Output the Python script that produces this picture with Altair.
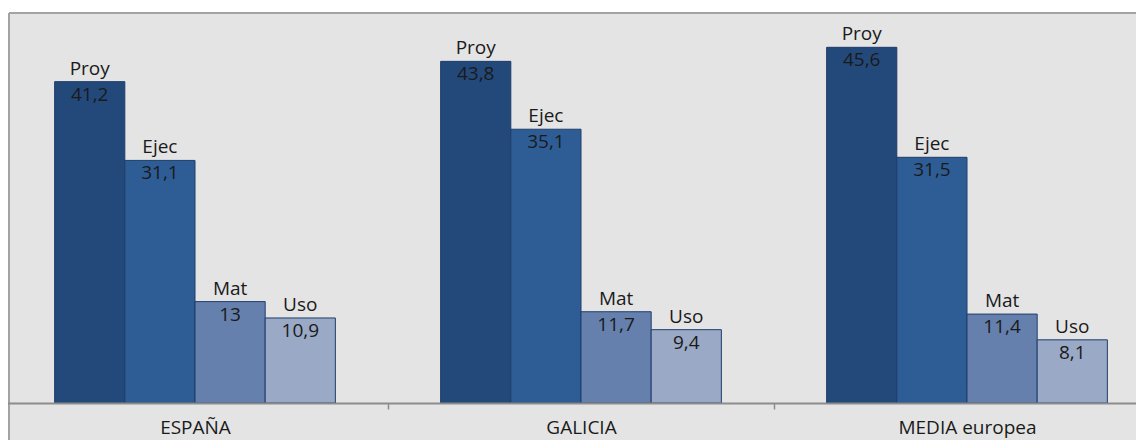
import altair as alt
import pandas as pd

regions = ["ESPAÑA", "GALICIA", "MEDIA europea"]
series = ["Proy", "Ejec", "Mat", "Uso"]
espana = [41.2, 31.1, 13, 10.9]
galicia = [43.8, 35.1, 11.7, 9.4]
media = [45.6, 31.5, 11.4, 8.1]
colors = ["#23497a", "#2e5d96", "#6580ad", "#9aa9c5"]

rows = []
for reg, vals in zip(regions, [espana, galicia, media]):
    for s, v in zip(series, vals):
        rows.append({"region": reg, "serie": s, "value": v,
                     "label": f"{v:g}".replace(".", ",")})
df = pd.DataFrame(rows)

FONT = "Open Sans"
TXT = "#1a1a1a"
FS = 19
W, H = 1127, 427
BORDER = "#a3a3a3"

base = alt.Chart(df).encode(
    x=alt.X("region:N", sort=regions,
            scale=alt.Scale(range=[-7, 1151], paddingInner=0, paddingOuter=0),
            axis=alt.Axis(title=None, labelAngle=0, tickBand="extent", offset=-37,
                          domainColor="#8c8c8c", domainWidth=2, tickColor="#8c8c8c",
                          tickWidth=1.5, tickSize=6, labelPadding=9, labelFontSize=FS,
                          labelFont=FONT, labelColor=TXT, grid=False, zindex=1)),
    xOffset=alt.XOffset("serie:N", sort=series,
                        scale=alt.Scale(paddingInner=0, paddingOuter=0.75)),
    y=alt.Y("value:Q", scale=alt.Scale(domain=[0, 50], range=[390, 0]), axis=None),
)

bars = base.mark_bar(stroke="#1f3d6b", strokeWidth=1).encode(
    color=alt.Color("serie:N", scale=alt.Scale(domain=series, range=colors), legend=None)
)
names = base.mark_text(dy=-7, baseline="alphabetic", fontSize=FS, font=FONT, color=TXT).encode(
    text="serie:N")
values = base.mark_text(dy=19, baseline="alphabetic", fontSize=FS, font=FONT, color=TXT).encode(
    text="label:N")

# frame: top and left border only (right/bottom lie outside the picture in the reference)
top_border = alt.Chart(df).mark_rule(color=BORDER, strokeWidth=1.5).encode(
    x=alt.value(0), x2=alt.value(W + 10), y=alt.value(0))
left_border = alt.Chart(df).mark_rule(color=BORDER, strokeWidth=1.5).encode(
    x=alt.value(0), y=alt.value(0), y2=alt.value(H + 10))

chart = alt.layer(bars, names, values, top_border, left_border).properties(
    width=W, height=H,
    autosize=alt.AutoSizeParams(type="none"),
    padding={"left": 1, "top": 5, "right": 0, "bottom": 0},
).configure_view(fill="#e4e4e4", strokeWidth=0)

chart.save("out.html", embed_options={"renderer": "svg", "actions": False})
